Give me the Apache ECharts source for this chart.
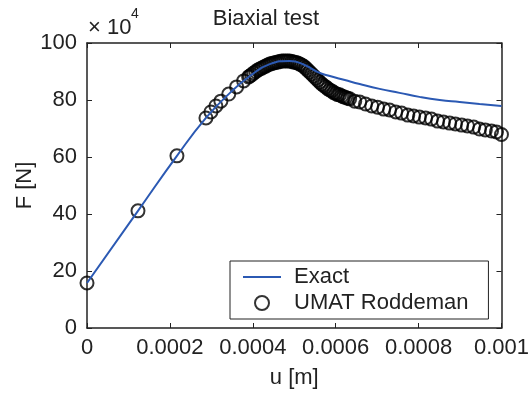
<!DOCTYPE html>
<html>
<head>
<meta charset="utf-8">
<script src="https://cdn.jsdelivr.net/npm/echarts@6/dist/echarts.min.js"></script>
<style>
  html, body { margin: 0; padding: 0; background: #fff; }
  #chart { width: 532px; height: 394px; }
</style>
</head>
<body>
<div id="chart"></div>
<script>
// displacement u [m] and force F [N] (in units of 1e4, shown by the x10^4 note)
const exactU = [0, 0.000123, 0.000217, 0.000287, 0.000345, 0.000393, 0.000441, 0.000489,
  0.000525, 0.000557, 0.000586, 0.000622, 0.000658, 0.000706, 0.000754, 0.000802,
  0.000851, 0.000899, 0.000947, 0.001]
const exactF = [15.8, 41.1, 60.4, 73.7, 82.5, 88.4, 92.6, 93.7,
  92.3, 89.8, 88.4, 87.0, 85.6, 83.9, 82.5, 81.1,
  80.0, 79.3, 78.6, 77.9]

const umatU = [0, 0.000123, 0.000217, 0.000287, 0.000299, 0.000311, 0.000323, 0.000342,
  0.000361, 0.000378, 0.000390,
  0.0003928, 0.0003976, 0.0004024, 0.0004072, 0.0004120, 0.0004169, 0.0004217, 0.0004265,
  0.0004313, 0.0004361, 0.0004410, 0.0004458, 0.0004506, 0.0004554, 0.0004602, 0.0004651,
  0.0004699, 0.0004747, 0.0004795, 0.0004843, 0.0004892, 0.0004940, 0.0004988, 0.0005036,
  0.0005084, 0.0005133, 0.0005181, 0.0005229, 0.0005277, 0.0005325, 0.0005373, 0.0005422,
  0.0005470, 0.0005518, 0.0005566, 0.0005614, 0.0005663, 0.0005711, 0.0005759, 0.0005807,
  0.0005855, 0.0005904, 0.0005952, 0.0006000, 0.0006048, 0.0006096, 0.0006145, 0.0006193,
  0.0006241, 0.0006289, 0.0006337,
  0.000646, 0.000658, 0.000672, 0.000687, 0.000701,
  0.000716, 0.000730, 0.000745, 0.000759, 0.000774, 0.000788, 0.000802, 0.000817,
  0.000831, 0.000846, 0.000860, 0.000875, 0.000889, 0.000904, 0.000918, 0.000933,
  0.000947, 0.000961, 0.000976, 0.000988, 0.001]
const umatF = [15.8, 41.1, 60.4, 73.7, 75.8, 77.9, 79.6, 82.1,
  84.6, 86.7, 88.1,
  88.4, 88.9, 89.5, 90.0, 90.5, 90.9, 91.2, 91.6,
  91.9, 92.3, 92.6, 92.8, 93.0, 93.2, 93.3, 93.5,
  93.7, 93.7, 93.7, 93.7, 93.7, 93.5, 93.3, 93.2,
  93.0, 92.6, 92.3, 91.8, 91.2, 90.5, 89.8, 89.1,
  88.4, 87.7, 87.0, 86.3, 85.6, 85.1, 84.6, 84.0,
  83.5, 83.2, 82.6, 82.3, 81.9, 81.8, 81.4, 81.1,
  80.9, 80.6, 80.4,
  79.6, 79.3, 78.6, 77.9, 77.5,
  76.8, 76.5, 75.8, 75.4, 74.7, 74.4, 74.0, 73.7,
  73.3, 72.6, 72.3, 71.9, 71.6, 71.2, 70.9, 70.5,
  69.8, 69.5, 69.1, 68.8, 67.9]

const xMin = 0, xMax = 0.001, xStep = 0.0002
const yMin = 0, yMax = 100, yStep = 20

const font = 'Liberation Sans'
const ink = '#222'
const blue = '#2b59b3'

const chart = echarts.init(document.getElementById('chart'))

function pairs(xs, ys) {
  return xs.map((x, i) => [x, ys[i]])
}

const axisBase = {
  type: 'value',
  axisLine: { show: true, onZero: false, lineStyle: { color: ink, width: 1.5 } },
  axisTick: { show: true, inside: true, length: 5, lineStyle: { color: ink, width: 1 } },
  splitLine: { show: false },
}

chart.setOption({
  animation: false,
  backgroundColor: '#fff',
  textStyle: { fontFamily: font },
  title: {
    text: 'Biaxial test',
    left: 'center',
    top: 3,
    textStyle: { fontFamily: font, fontSize: 22, fontWeight: 'normal', color: ink },
  },
  grid: { left: 87, right: 30, top: 43, bottom: 66 },
  xAxis: [
    {
      ...axisBase,
      position: 'bottom',
      min: xMin, max: xMax, interval: xStep,
      axisLabel: { color: ink, fontSize: 22, fontFamily: font, margin: 9 },
      name: 'u [m]',
      nameLocation: 'middle',
      nameGap: 39,
      nameTextStyle: { color: ink, fontSize: 22, fontFamily: font },
    },
    {
      ...axisBase,
      position: 'top',
      min: xMin, max: xMax, interval: xStep,
      axisLabel: { show: false },
    },
  ],
  yAxis: [
    {
      ...axisBase,
      position: 'left',
      min: yMin, max: yMax, interval: yStep,
      axisLabel: { color: ink, fontSize: 22, fontFamily: font, margin: 10 },
      name: 'F [N]',
      nameLocation: 'middle',
      nameGap: 51,
      nameMoveOverlap: false,
      nameTextStyle: { color: ink, fontSize: 22, fontFamily: font },
    },
    {
      ...axisBase,
      position: 'right',
      min: yMin, max: yMax, interval: yStep,
      axisLabel: { show: false },
    },
  ],
  graphic: [
    { type: 'text', left: 88, top: 17, style: { text: '× 10', font: '22px "Liberation Sans"', fill: ink } },
    { type: 'text', left: 131, top: 7, style: { text: '4', font: '14px "Liberation Sans"', fill: ink } },
  ],
  legend: {
    left: 230,
    top: 261,
    orient: 'vertical',
    padding: [5, 20, 5, 13],
    itemGap: 4,
    itemWidth: 38,
    itemHeight: 14,
    backgroundColor: '#fff',
    borderColor: ink,
    borderWidth: 1,
    z: 10,
    textStyle: { color: ink, fontSize: 22, fontFamily: font, lineHeight: 21, padding: [0, 0, 0, 8] },
    data: [
      { name: 'Exact', icon: 'path://M0,0 L38,0 L38,2 L0,2 Z' },
      { name: 'UMAT Roddeman' },
    ],
  },
  series: [
    {
      name: 'Exact',
      type: 'line',
      smooth: true,
      symbol: 'none',
      lineStyle: { color: blue, width: 2 },
      itemStyle: { color: blue },
      data: pairs(exactU, exactF),
    },
    {
      name: 'UMAT Roddeman',
      type: 'scatter',
      symbol: 'circle',
      symbolSize: 13,
      itemStyle: { color: 'rgba(0,0,0,0)', borderColor: '#000', borderWidth: 2 },
      data: pairs(umatU, umatF),
    },
  ],
})
</script>
</body>
</html>
